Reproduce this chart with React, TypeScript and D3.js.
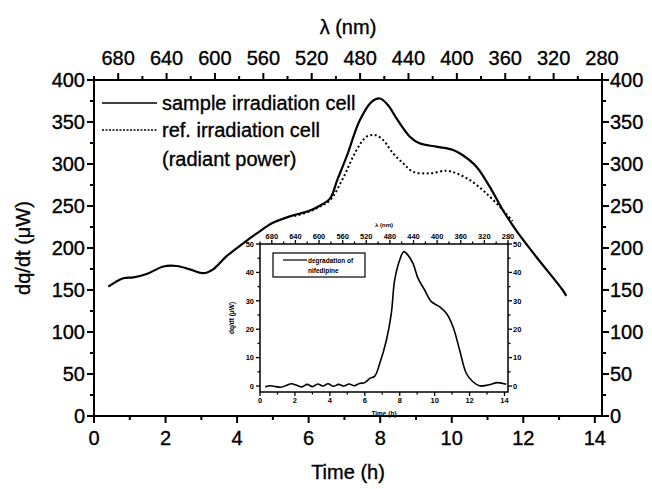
import React from "react";
import * as d3 from "d3";

const timeSample = [0.4, 0.82, 1.1, 1.47, 1.94, 2.31, 2.68, 3.05, 3.33, 3.7, 4.17, 4.54, 5.0, 5.5, 6.0, 6.3, 6.6, 6.8, 7.06, 7.43, 7.76, 7.99, 8.22, 8.46, 8.83, 9.1, 9.57, 10.04, 10.3, 10.69, 11.06, 11.43, 11.8, 12.36, 13.1, 13.2];
const valueSample = [154, 164, 165, 169, 178, 178.6, 174.6, 170, 174.6, 190, 205.6, 217, 230, 238, 244, 250, 259, 281, 308.7, 352, 374, 378, 370, 354, 332.5, 324.6, 320.6, 316.7, 310.7, 296.8, 273, 245, 221, 189.6, 150, 143];

const timeRef = [5.6, 6.0, 6.3, 6.6, 6.96, 7.34, 7.62, 7.85, 8.08, 8.36, 8.64, 8.92, 9.39, 9.85, 10.13, 10.5, 10.97, 11.43, 11.7];
const valueRef = [238, 243, 249, 257, 283, 316.7, 332.5, 334.5, 328.6, 312.7, 300.8, 290.8, 288.9, 292, 288.9, 281, 265, 245, 232];

const timeDeg = [0.3, 0.6, 0.9, 1.2, 1.5, 1.8, 2.1, 2.4, 2.7, 3.0, 3.3, 3.6, 3.9, 4.2, 4.5, 4.8, 5.1, 5.4, 5.7, 6.0, 6.29, 6.57, 6.86, 7.24, 7.52, 7.71, 8.0, 8.23, 8.48, 8.76, 9.05, 9.43, 9.81, 10.29, 10.67, 11.05, 11.43, 11.81, 12.19, 12.57, 13.05, 13.6, 14.1];
const valueDeg = [-0.3, 0.1, -0.2, -0.4, 0.2, 0.8, 0.3, -0.3, 0.6, -0.2, 0.7, 0.0, 0.8, -0.1, 0.6, 0.0, 0.7, 0.1, 0.9, 1.2, 2.7, 3.5, 8, 16.2, 25.6, 37.3, 44.4, 47.3, 46, 43.2, 37.9, 33.8, 29.7, 27.9, 25.6, 20.9, 12.7, 4.5, 1.5, 0.1, 0.35, 1.2, 0.6];

const timeTicks = [0, 2, 4, 6, 8, 10, 12, 14];
const powerTicks = [0, 50, 100, 150, 200, 250, 300, 350, 400];
const waveTicks = [680, 640, 600, 560, 520, 480, 440, 400, 360, 320, 280];
const insetPowerTicks = [0, 10, 20, 30, 40, 50];

const legendLabels = ["sample irradiation cell", "ref. irradiation cell", "(radiant power)"];
const insetLegendLabels = ["degradation of", "nifedipine"];

const FONT = "'Liberation Sans', Arial, Helvetica, sans-serif";

export default function App() {
  const L = 94, R = 602, T = 80, B = 416;
  const x = d3.scaleLinear().domain([0, 14.2]).range([L, R]);
  const y = d3.scaleLinear().domain([0, 400]).range([B, T]);
  const xw = d3.scaleLinear().domain([700, 280]).range([L, R]);

  const iL = 260, iR = 508, iT = 244, iB = 392;
  const xi = d3.scaleLinear().domain([0, 14.2]).range([iL, iR]);
  const yi = d3.scaleLinear().domain([-2.1, 50]).range([iB, iT]);
  const xwi = d3.scaleLinear().domain([700, 280]).range([iL, iR]);

  const lineMain = d3.line<number>().x((_, i) => x(timeSample[i])).y((d) => y(d)).curve(d3.curveCatmullRom.alpha(0.5));
  const lineRef = d3.line<number>().x((_, i) => x(timeRef[i])).y((d) => y(d)).curve(d3.curveCatmullRom.alpha(0.5));
  const lineDeg = d3.line<number>().x((_, i) => xi(timeDeg[i])).y((d) => yi(d)).curve(d3.curveCatmullRom.alpha(0.5));

  const minorTime = d3.range(1, 15, 2);
  const minorPower = d3.range(25, 400, 50);
  const minorWave = d3.range(700, 279, -20).filter((w) => w % 40 !== 0);

  const fs = 20;
  const ifs = 7.5;
  const ts = { stroke: "#000", strokeWidth: 0.35 };

  return (
    <svg width={652} height={489} style={{ position: "absolute", left: 0, top: 0, background: "#fff" }} fontFamily={FONT}>
      <rect x={0} y={0} width={652} height={489} fill="#fff" />
      <rect x={L} y={T} width={R - L} height={B - T} fill="none" stroke="#000" strokeWidth={2} />

      {timeTicks.map((t) => (
        <g key={"bt" + t}>
          <line x1={x(t)} x2={x(t)} y1={B} y2={B + 7} stroke="#000" strokeWidth={2} />
          <text x={x(t)} y={B + 29} fontSize={fs} textAnchor="middle" {...ts}>{t}</text>
        </g>
      ))}
      {minorTime.map((t) => (
        <line key={"bm" + t} x1={x(t)} x2={x(t)} y1={B} y2={B + 4} stroke="#000" strokeWidth={2} />
      ))}
      <text x={(L + R) / 2} y={479} fontSize={fs} textAnchor="middle" {...ts}>Time (h)</text>

      {powerTicks.map((v) => (
        <g key={"lt" + v}>
          <line x1={L - 7} x2={L} y1={y(v)} y2={y(v)} stroke="#000" strokeWidth={2} />
          <text x={L - 9} y={y(v) + 7} fontSize={fs} textAnchor="end" {...ts}>{v}</text>
          <line x1={R} x2={R + 7} y1={y(v)} y2={y(v)} stroke="#000" strokeWidth={2} />
          <text x={R + 8} y={y(v) + 7} fontSize={fs} textAnchor="start" {...ts}>{v}</text>
        </g>
      ))}
      {minorPower.map((v) => (
        <g key={"lm" + v}>
          <line x1={L - 4} x2={L} y1={y(v)} y2={y(v)} stroke="#000" strokeWidth={2} />
          <line x1={R} x2={R + 4} y1={y(v)} y2={y(v)} stroke="#000" strokeWidth={2} />
        </g>
      ))}
      <text transform={`translate(30,${(T + B) / 2}) rotate(-90)`} fontSize={fs} textAnchor="middle" {...ts}>dq/dt (μW)</text>

      {waveTicks.map((w) => (
        <g key={"tw" + w}>
          <line x1={xw(w)} x2={xw(w)} y1={T - 7} y2={T} stroke="#000" strokeWidth={2} />
          <text x={xw(w)} y={T - 15} fontSize={fs} textAnchor="middle" {...ts}>{w}</text>
        </g>
      ))}
      {minorWave.map((w) => (
        <line key={"twm" + w} x1={xw(w)} x2={xw(w)} y1={T - 4} y2={T} stroke="#000" strokeWidth={2} />
      ))}
      <text x={(L + R) / 2} y={34} fontSize={fs} textAnchor="middle" {...ts}>λ (nm)</text>

      <path d={lineMain(valueSample) || ""} fill="none" stroke="#000" strokeWidth={2.2} />
      <path d={lineRef(valueRef) || ""} fill="none" stroke="#000" strokeWidth={2} strokeDasharray="2,2.5" />

      <line x1={102} x2={157} y1={103} y2={103} stroke="#000" strokeWidth={1.5} />
      <line x1={102} x2={157} y1={130} y2={130} stroke="#000" strokeWidth={1.5} strokeDasharray="2,1.5" />
      <text x={162} y={110} fontSize={fs} {...ts}>{legendLabels[0]}</text>
      <text x={162} y={137} fontSize={fs} {...ts}>{legendLabels[1]}</text>
      <text x={162} y={166} fontSize={fs} {...ts}>{legendLabels[2]}</text>

      <g>
        <rect x={iL} y={iT} width={iR - iL} height={iB - iT} fill="#fff" stroke="#000" strokeWidth={1.5} />
        {timeTicks.map((t) => (
          <g key={"it" + t}>
            <line x1={xi(t)} x2={xi(t)} y1={iB} y2={iB + 4} stroke="#000" strokeWidth={1.3} />
            <text x={xi(t)} y={iB + 11} fontSize={ifs} fontWeight="bold" textAnchor="middle">{t}</text>
          </g>
        ))}
        {minorTime.map((t) => (
          <line key={"itm" + t} x1={xi(t)} x2={xi(t)} y1={iB} y2={iB + 2.5} stroke="#000" strokeWidth={1.3} />
        ))}
        <text x={(iL + iR) / 2} y={iB + 24} fontSize={6.5} fontWeight="bold" textAnchor="middle">Time (h)</text>
        {insetPowerTicks.map((v) => (
          <g key={"ip" + v}>
            <line x1={iL - 4} x2={iL} y1={yi(v)} y2={yi(v)} stroke="#000" strokeWidth={1.3} />
            <text x={iL - 6} y={yi(v) + 2.7} fontSize={ifs} fontWeight="bold" textAnchor="end">{v}</text>
            <line x1={iR} x2={iR + 4} y1={yi(v)} y2={yi(v)} stroke="#000" strokeWidth={1.3} />
            <text x={iR + 5} y={yi(v) + 2.7} fontSize={ifs} fontWeight="bold" textAnchor="start">{v}</text>
          </g>
        ))}
        {d3.range(5, 50, 10).map((v) => (
          <g key={"ipm" + v}>
            <line x1={iL - 2.5} x2={iL} y1={yi(v)} y2={yi(v)} stroke="#000" strokeWidth={1.3} />
            <line x1={iR} x2={iR + 2.5} y1={yi(v)} y2={yi(v)} stroke="#000" strokeWidth={1.3} />
          </g>
        ))}
        <text transform={`translate(234,${(iT + iB) / 2}) rotate(-90)`} fontSize={6.5} fontWeight="bold" textAnchor="middle">dq/dt (μW)</text>
        {waveTicks.map((w) => (
          <g key={"iw" + w}>
            <line x1={xwi(w)} x2={xwi(w)} y1={iT - 4} y2={iT} stroke="#000" strokeWidth={1.3} />
            <text x={xwi(w)} y={iT - 5} fontSize={ifs} fontWeight="bold" textAnchor="middle">{w}</text>
          </g>
        ))}
        {minorWave.map((w) => (
          <line key={"iwm" + w} x1={xwi(w)} x2={xwi(w)} y1={iT - 2.5} y2={iT} stroke="#000" strokeWidth={1.3} />
        ))}
        <text x={(iL + iR) / 2} y={iT - 17} fontSize={6} fontWeight="bold" textAnchor="middle">λ (nm)</text>
        <path d={lineDeg(valueDeg) || ""} fill="none" stroke="#000" strokeWidth={1.6} />
        <rect x={273} y={253} width={92} height={24} fill="#fff" stroke="#000" strokeWidth={1.2} />
        <line x1={283} x2={307} y1={260} y2={260} stroke="#000" strokeWidth={1.2} />
        <text x={308} y={262.5} fontSize={6.5} fontWeight="bold">{insetLegendLabels[0]}</text>
        <text x={308} y={272.5} fontSize={6.5} fontWeight="bold">{insetLegendLabels[1]}</text>
      </g>
    </svg>
  );
}
